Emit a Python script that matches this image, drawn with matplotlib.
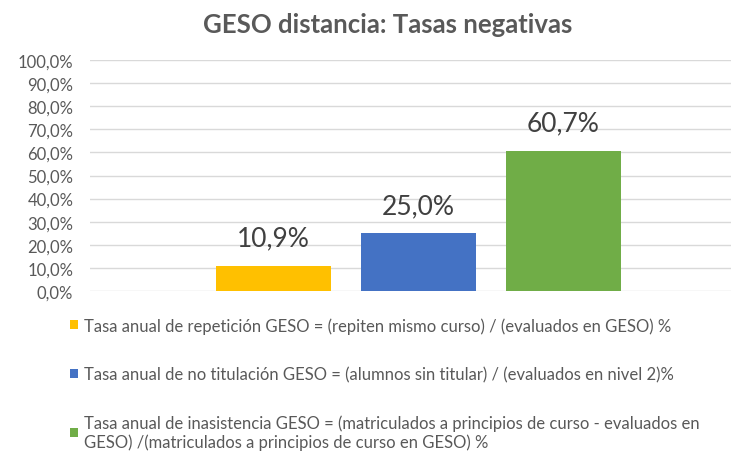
import matplotlib
matplotlib.use("Agg")
import matplotlib.pyplot as plt
from matplotlib.ticker import FuncFormatter, MultipleLocator

plt.rcParams['font.family'] = ['Lato', 'DejaVu Sans']

title = "GESO distancia: Tasas negativas"
series_names = [
    "Tasa anual de repetición GESO = (repiten mismo curso) / (evaluados en GESO) %",
    "Tasa anual de no titulación GESO = (alumnos sin titular) / (evaluados en nivel 2)%",
    "Tasa anual de inasistencia GESO = (matriculados a principios de curso - evaluados en\nGESO) /(matriculados a principios de curso en GESO) %",
]
values = [10.9, 25.0, 60.7]
colors = ["#FFC000", "#4472C4", "#70AD47"]

W, H = 731, 456
fig = plt.figure(figsize=(W / 100, H / 100), dpi=100)
ax = fig.add_axes([90 / W, 1 - 292 / H, 1 - 90 / W, (292 - 61) / H])

for i, (v, c, name) in enumerate(zip(values, colors, series_names)):
    ax.bar(i, v, width=115 / 145, color=c, label=name, zorder=3)
    ax.annotate(f"{v:.1f}%".replace(".", ","), (i, v), xytext=(0, 11),
                textcoords="offset points", ha="center", va="bottom",
                fontsize=19, color="#404040")

ax.set_xlim((90 - 273) / 145, (731 - 273) / 145)
ax.set_ylim(0, 100)
ax.yaxis.set_major_locator(MultipleLocator(10))
ax.yaxis.set_major_formatter(FuncFormatter(lambda y, p: f"{y:.1f}%".replace(".", ",")))
ax.set_xticks([])
ax.tick_params(axis="y", length=0, labelsize=12, labelcolor="#595959", pad=12)
ax.grid(axis="y", color="#D9D9D9", linewidth=1, zorder=0)
for s in ax.spines.values():
    s.set_visible(False)

fig.text(388 / W, 1 - 25 / H, title, ha="center", va="center",
         fontsize=18.5, fontweight="bold", color="#595959")

leg = fig.legend(loc="upper left", bbox_to_anchor=(70 / W, 1 - 318 / H),
                 frameon=False, fontsize=12, labelcolor="#595959",
                 handlelength=0.45, handleheight=0.45, handletextpad=0.4,
                 labelspacing=1.95, borderpad=0, borderaxespad=0)
for t in leg.get_texts():
    t.set_linespacing(1.15)

fig.savefig("out.png", dpi=100, facecolor="white")
